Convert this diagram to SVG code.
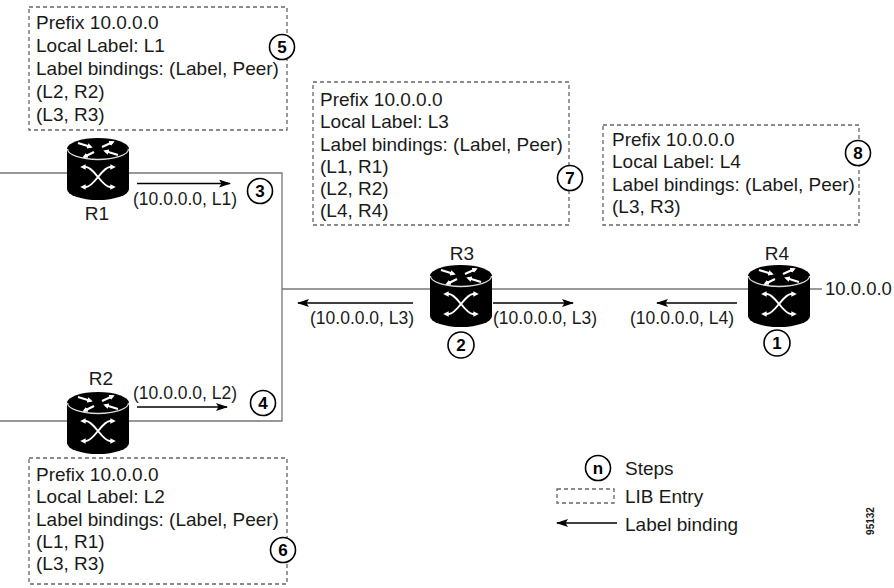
<svg xmlns="http://www.w3.org/2000/svg" width="894" height="588" viewBox="0 0 894 588">
<style>
text{font-family:"Liberation Sans",Arial,sans-serif;font-size:19px;fill:#1a1a1a}
.lbl{font-size:17.5px}
.lib{fill:none;stroke:#666;stroke-width:1.3;stroke-dasharray:4 3}
.ln{fill:none;stroke:#777;stroke-width:1.3}
.arr{fill:none;stroke:#000;stroke-width:1.4;marker-end:url(#ah)}
.step{fill:#fff;stroke:#000;stroke-width:1.6}
.num{font-weight:bold;font-size:17px;text-anchor:middle;fill:#000}
.mid{text-anchor:middle}
.wx{fill:none;stroke:#fff;stroke-width:2;marker-start:url(#wh);marker-end:url(#wh)}
.wt{fill:none;stroke:#fff;stroke-width:2.2;marker-end:url(#wh)}
</style>
<defs>
<marker id="ah" viewBox="0 0 12 8" refX="11" refY="4" markerWidth="12" markerHeight="8" orient="auto" markerUnits="userSpaceOnUse"><path d="M0,0 L12,4 L0,8 L2.5,4 z" fill="#000"/></marker>
<marker id="wh" viewBox="0 0 6 6" refX="4" refY="3" markerWidth="5.5" markerHeight="5.5" orient="auto-start-reverse" markerUnits="userSpaceOnUse"><path d="M0,0 L6,3 L0,6 z" fill="#fff"/></marker>
<g id="router">
<path d="M0,11 V51 A31,11 0 0 0 62,51 V11 A31,11 0 0 0 0,11 Z" fill="#000"/>
<path d="M0.5,11 A30.5,10.5 0 0 0 61.5,11" fill="none" stroke="#ddd" stroke-width="1.3"/>
<path class="wt" d="M11,5 L24,9"/>
<path class="wt" d="M51,17 L38,13"/>
<path class="wt" d="M35,9 L46,4"/>
<path class="wt" d="M27,14 L17,19"/>
<path class="wx" d="M15,29 H19 C27,29 35,49 43,49 H47"/>
<path class="wx" d="M47,29 H43 C35,29 27,49 19,49 H15"/>
</g>
</defs>

<g id="connectors">
<path class="ln" d="M0,173 H282 V421 H0"/>
<path class="ln" d="M282,289 H822"/>
<path class="arr" d="M137,183.5 H230"/>
<path class="arr" d="M137,407 H227"/>
<path class="arr" d="M413,303 H298"/>
<path class="arr" d="M493,303 H573"/>
<path class="arr" d="M737,303 H657"/>
</g>

<g id="R1"><use href="#router" x="67" y="138"/><text class="mid" x="97" y="220">R1</text></g>
<g id="R2"><use href="#router" x="67" y="392"/><text class="mid" x="101" y="385">R2</text></g>
<g id="R3"><use href="#router" x="430" y="265"/><text class="mid" x="462" y="260">R3</text></g>
<g id="R4"><use href="#router" x="748" y="265"/><text class="mid" x="777" y="260">R4</text></g>

<g id="labels">
<text class="lbl" x="133" y="205">(10.0.0.0, L1)</text>
<text class="lbl" x="133" y="399">(10.0.0.0, L2)</text>
<text class="lbl" x="310" y="324">(10.0.0.0, L3)</text>
<text class="lbl" x="493" y="324">(10.0.0.0, L3)</text>
<text class="lbl" x="630" y="324">(10.0.0.0, L4)</text>
<text x="825" y="295" style="font-size:18.5px">10.0.0.0</text>
</g>

<g id="lib5">
<rect class="lib" x="29" y="7" width="258" height="123"/>
<text x="36" y="29">Prefix 10.0.0.0</text>
<text x="36" y="52">Local Label: L1</text>
<text x="36" y="75">Label bindings: (Label, Peer)</text>
<text x="36" y="98">(L2, R2)</text>
<text x="36" y="121">(L3, R3)</text>
</g>
<g id="lib7">
<rect class="lib" x="313" y="82" width="256" height="143"/>
<text x="320" y="106">Prefix 10.0.0.0</text>
<text x="320" y="128">Local Label: L3</text>
<text x="320" y="151">Label bindings: (Label, Peer)</text>
<text x="320" y="173">(L1, R1)</text>
<text x="320" y="195">(L2, R2)</text>
<text x="320" y="217">(L4, R4)</text>
</g>
<g id="lib8">
<rect class="lib" x="603" y="125" width="256" height="100"/>
<text x="612" y="146">Prefix 10.0.0.0</text>
<text x="612" y="168">Local Label: L4</text>
<text x="612" y="191">Label bindings: (Label, Peer)</text>
<text x="612" y="213">(L3, R3)</text>
</g>
<g id="lib6">
<rect class="lib" x="29" y="458" width="258" height="126"/>
<text x="36" y="481">Prefix 10.0.0.0</text>
<text x="36" y="503">Local Label: L2</text>
<text x="36" y="526">Label bindings: (Label, Peer)</text>
<text x="36" y="548">(L1, R1)</text>
<text x="36" y="570">(L3, R3)</text>
</g>

<g id="steps">
<circle class="step" cx="777" cy="343" r="13"/><text class="num" x="777" y="349">1</text>
<circle class="step" cx="461" cy="345" r="13"/><text class="num" x="461" y="351">2</text>
<circle class="step" cx="260" cy="191" r="12.5"/><text class="num" x="260" y="197">3</text>
<circle class="step" cx="263" cy="403" r="12.5"/><text class="num" x="263" y="409">4</text>
<circle class="step" cx="282" cy="47" r="12.5"/><text class="num" x="282" y="53">5</text>
<circle class="step" cx="283" cy="550" r="12.5"/><text class="num" x="283" y="556">6</text>
<circle class="step" cx="570" cy="178" r="12.5"/><text class="num" x="570" y="184">7</text>
<circle class="step" cx="858" cy="153" r="12.5"/><text class="num" x="858" y="159">8</text>
</g>

<g id="legend">
<circle class="step" cx="598" cy="468" r="12.5"/><text class="num" x="598" y="473.5">n</text>
<text x="625" y="475">Steps</text>
<rect class="lib" x="557" y="489" width="57" height="14"/>
<text x="625" y="503">LIB Entry</text>
<path class="arr" d="M617,523 H557"/>
<text x="625" y="531">Label binding</text>
<text transform="translate(874,521) rotate(-90)" text-anchor="middle" style="font-size:10px;font-weight:bold">95132</text>
</g>
</svg>
